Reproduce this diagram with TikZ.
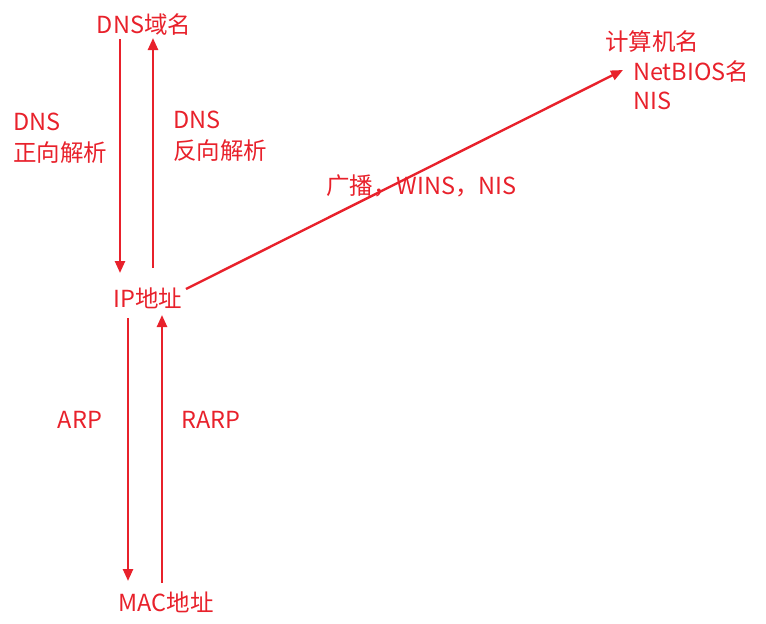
\documentclass[tikz,border=0pt]{standalone}
\usepackage{fontspec}
\setmainfont{Noto Sans CJK SC}
\usetikzlibrary{arrows.meta}
\definecolor{lred}{HTML}{E8212B}
\tikzset{
  lbl/.style={text=lred, font=\fontsize{23.5}{31}\selectfont, inner sep=0pt},
  arr/.style={draw=lred, line width=2.4pt, -{Triangle[length=12pt,width=10pt]}},
}
\begin{document}
\begin{tikzpicture}[x=1pt,y=-1pt]
\useasboundingbox (0,0) rectangle (766,624);
\node[lbl] (dns) at (144,25) {DNS域名};
\node[lbl] (ip) at (148,298) {IP地址};
\node[lbl] (mac) at (166,602) {MAC地址};
\node[lbl, anchor=west, align=left] (fwd) at (13,138) {DNS\\正向解析};
\node[lbl, anchor=west, align=left] (rev) at (173,136) {DNS\\反向解析};
\node[lbl] (arp) at (80,420) {ARP};
\node[lbl] (rarp) at (211,420) {RARP};
\node[lbl, anchor=west] (bc) at (326,186) {广播，WINS，NIS};
\node[lbl, anchor=west] (pc) at (605,42) {计算机名};
\node[lbl, anchor=west] (nb) at (633,72) {NetBIOS名};
\node[lbl, anchor=west] (nis) at (633,101) {NIS};
% connector end points
\coordinate (a1) at (120,39);
\coordinate (a2) at (120,273);
\coordinate (b1) at (153,268);
\coordinate (b2) at (153,38);
\coordinate (c1) at (128,318);
\coordinate (c2) at (128,581);
\coordinate (d1) at (162,583);
\coordinate (d2) at (162,315);
\coordinate (e1) at (186,289);
\coordinate (e2) at (623,70);
\draw[arr] (a1) -- (a2);
\draw[arr] (b1) -- (b2);
\draw[arr] (c1) -- (c2);
\draw[arr] (d1) -- (d2);
\draw[arr] (e1) -- (e2);
\end{tikzpicture}
\end{document}
